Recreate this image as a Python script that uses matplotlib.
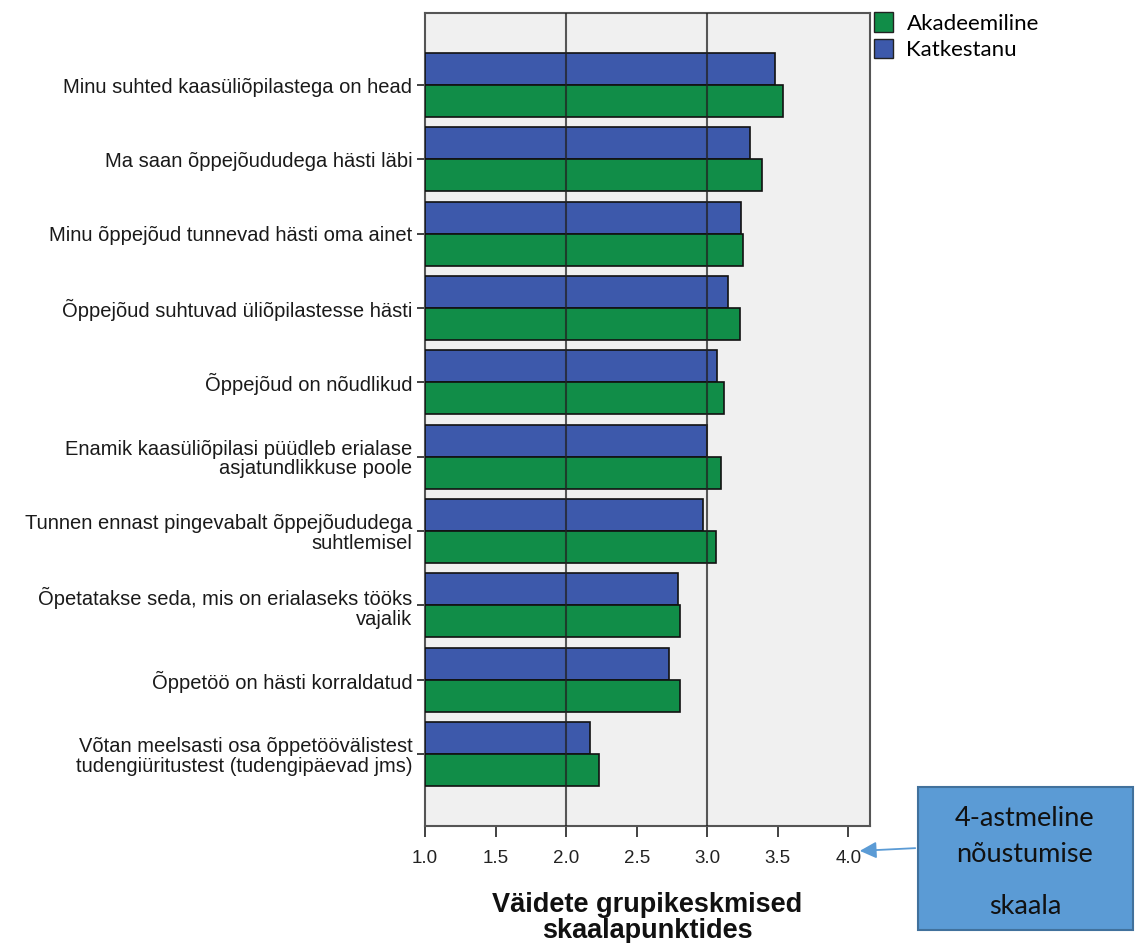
import matplotlib.pyplot as plt
from matplotlib.patches import Patch, FancyBboxPatch, FancyArrowPatch
import numpy as np

# statements, top to bottom
labels = [
    'Minu suhted kaasüliõpilastega on head',
    'Ma saan õppejõududega hästi läbi',
    'Minu õppejõud tunnevad hästi oma ainet',
    'Õppejõud suhtuvad üliõpilastesse hästi',
    'Õppejõud on nõudlikud',
    'Enamik kaasüliõpilasi püüdleb erialase\nasjatundlikkuse poole',
    'Tunnen ennast pingevabalt õppejõududega\nsuhtlemisel',
    'Õpetatakse seda, mis on erialaseks tööks\nvajalik',
    'Õppetöö on hästi korraldatud',
    'Võtan meelsasti osa õppetöövälistest\ntudengiüritustest (tudengipäevad jms)',
]
akadeemiline = [3.54, 3.39, 3.25, 3.23, 3.12, 3.10, 3.06, 2.81, 2.81, 2.23]
katkestanu = [3.48, 3.30, 3.24, 3.15, 3.07, 3.00, 2.97, 2.79, 2.73, 2.17]
xticks = [1.0, 1.5, 2.0, 2.5, 3.0, 3.5, 4.0]

green = '#118d48'
blue = '#3d59ab'

fig = plt.figure(figsize=(11.39, 9.43), dpi=100)
ax = fig.add_axes([0.3731, 0.1241, 0.3907, 0.8621])
ax.set_facecolor('#f0f0f0')

y = np.arange(len(labels))
h = 0.43
ax.barh(y - h / 2, np.array(katkestanu) - 1, height=h, left=1, color=blue,
        edgecolor='#111111', linewidth=1.2, zorder=3)
ax.barh(y + h / 2, np.array(akadeemiline) - 1, height=h, left=1, color=green,
        edgecolor='#111111', linewidth=1.2, zorder=3)

# reference lines at 2 and 3 drawn on top of bars
for xv in (2.0, 3.0):
    ax.axvline(xv, color='#222222', linewidth=1.5, alpha=0.75, zorder=4)

ax.set_xlim(1.0, 4.153)
ax.set_ylim(len(labels) - 1 + 0.97, -0.97)
ax.set_xticks(xticks)
ax.set_xticklabels([f'{v:.1f}' for v in xticks], fontsize=13.5,
                   family='Liberation Sans', color='#222222')
ax.set_yticks(y)
ax.set_yticklabels(labels, fontsize=14.5, family='Liberation Sans',
                   linespacing=1.05, color='#1a1a1a')
ax.tick_params(axis='x', direction='out', length=8, width=1.3, color='#333333', pad=9)
ax.tick_params(axis='y', direction='out', length=6, width=1.3, color='#333333', pad=3)
for s in ax.spines.values():
    s.set_color('#555555')
    s.set_linewidth(1.5)

ax.set_xlabel('Väidete grupikeskmised\nskaalapunktides', fontsize=19.5, fontweight='bold',
              family='Liberation Sans', linespacing=1.02, labelpad=18, color='#111111')

handles = [Patch(facecolor=green, edgecolor='#222222', label='Akadeemiline'),
           Patch(facecolor=blue, edgecolor='#222222', label='Katkestanu')]
fig.legend(handles=handles, loc='upper left', bbox_to_anchor=(0.75, 1.008),
           frameon=False, prop={'family': 'Lato', 'size': 16},
           handlelength=0.85, handleheight=0.95, handletextpad=0.6, labelspacing=0.25)

# annotation box on the right
box = FancyBboxPatch((918 / 1139, 1 - 930 / 943), 215 / 1139, 143 / 943,
                     boxstyle='square,pad=0', transform=fig.transFigure,
                     facecolor='#5b9bd5', edgecolor='#41719c', linewidth=1.5)
fig.patches.append(box)
for txt, ty in [('4-astmeline', 818), ('nõustumise', 855), ('skaala', 906)]:
    fig.text(1025 / 1139, 1 - ty / 943, txt, ha='center', va='center',
             fontsize=19.5, family='Lato', color='#111111')
fig.add_artist(FancyArrowPatch(
    (918 / 1139, 1 - 848 / 943), (857 / 1139, 1 - 851 / 943),
    transform=fig.transFigure, arrowstyle='-|>,head_length=10,head_width=5',
    color='#5b9bd5', linewidth=1.3))

fig.savefig('out.png', dpi=100)
